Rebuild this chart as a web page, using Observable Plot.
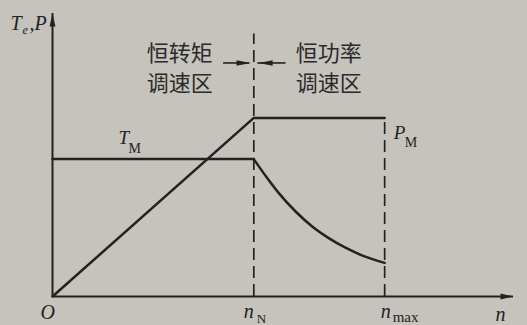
<!DOCTYPE html>
<html>
<head>
<meta charset="utf-8">
<script src="https://cdn.jsdelivr.net/npm/d3@7"></script>
<script src="https://cdn.jsdelivr.net/npm/@observablehq/plot@0.6"></script>
<style>
  html, body { margin: 0; padding: 0; background: #c5c3bc; }
  #chart svg { display: block; }
</style>
</head>
<body>
<div id="chart"></div>
<script>
// Speed axis in per-unit of rated speed (n / nN); torque and power in per-unit of TM.
const markSpeeds = [1, 1.65];            // nN, nmax
const axisEnds = [2.29, 2.06];           // end of n axis, end of Te/P axis

// Motor torque: constant up to nN, then falling in the constant-power region
const torqueSpeed = [0, 1, 1.06, 1.12, 1.21, 1.29, 1.37, 1.46, 1.54, 1.65];
const torqueValue = [1, 1, 0.875, 0.76, 0.615, 0.51, 0.427, 0.352, 0.298, 0.245];

// Motor power: rising up to nN, then constant PM
const powerSpeed = [0, 1, 1.65];
const powerValue = [0, 1.3, 1.3];

// Region labels
const regionLabels = ["恒转矩\n调速区", "恒功率\n调速区"];
const regionLevel = 1.70;
const dividerTop = 1.91;

const ink = "#222";
const bg = "#c5c3bc";
const [nN, nMax] = markSpeeds;
const [xEnd, yEnd] = axisEnds;

// filled, narrow arrowhead with its tip at the anchor, pointing up before rotation
const head = (len, hw) => ({
  draw(ctx) {
    ctx.moveTo(0, 0);
    ctx.lineTo(-hw, len);
    ctx.lineTo(hw, len);
    ctx.closePath();
  }
});

const serif = "Liberation Serif, Times New Roman, serif";
// text with its baseline-left corner offset from a data point
const label = (t, x, y, dx, dy, size, italic = true) =>
  Plot.text([t], {
    x: [x], y: [y], text: [t], dx, dy,
    textAnchor: "start", lineAnchor: "bottom",
    fontFamily: serif, fontSize: size, fontStyle: italic ? "italic" : "normal",
    fill: ink
  });

const torqueFlat = torqueSpeed.slice(0, 2).map((n, i) => ({n, v: torqueValue[i]}));
const torqueFall = torqueSpeed.slice(1).map((n, i) => ({n, v: torqueValue[i + 1]}));
const power = powerSpeed.map((n, i) => ({n, v: powerValue[i]}));

const chart = Plot.plot({
  width: 527,
  height: 325,
  marginLeft: 52,
  marginRight: 14,
  marginTop: 13,
  marginBottom: 29,
  x: {domain: [0, xEnd], axis: null},
  y: {domain: [0, yEnd], axis: null},
  style: {background: bg, color: ink},
  marks: [
    // axes
    Plot.ruleY([0], {x1: 0, x2: xEnd, stroke: ink, strokeWidth: 2}),
    Plot.ruleX([0], {y1: 0, y2: yEnd, stroke: ink, strokeWidth: 2}),
    Plot.dot([0], {x: [xEnd], y: [0], symbol: head(13, 3), rotate: 90, fill: ink, stroke: "none"}),
    Plot.dot([0], {x: [0], y: [yEnd], symbol: head(13, 3), rotate: 0, fill: ink, stroke: "none"}),

    // nN divider and nmax marker
    Plot.ruleX([nN], {y1: 0, y2: dividerTop, stroke: ink, strokeWidth: 1.7, strokeDasharray: "12,6"}),
    Plot.ruleX([nMax], {y1: 0, y2: powerValue[2], stroke: ink, strokeWidth: 1.7, strokeDasharray: "12,6"}),

    // curves
    Plot.line(torqueFlat, {x: "n", y: "v", stroke: ink, strokeWidth: 2.5}),
    Plot.line(torqueFall, {x: "n", y: "v", stroke: ink, strokeWidth: 2.5, curve: "monotone-x"}),
    Plot.line(power, {x: "n", y: "v", stroke: ink, strokeWidth: 2.5}),

    // region arrows pointing at the divider
    Plot.ruleY([regionLevel], {x1: nN - 0.15, x2: nN - 0.02, stroke: ink, strokeWidth: 1.6}),
    Plot.ruleY([regionLevel], {x1: nN + 0.02, x2: nN + 0.16, stroke: ink, strokeWidth: 1.6}),
    Plot.dot([0], {x: [nN - 0.016], y: [regionLevel], symbol: head(14, 2.8), rotate: 90, fill: ink, stroke: "none"}),
    Plot.dot([0], {x: [nN + 0.024], y: [regionLevel], symbol: head(14, 2.8), rotate: -90, fill: ink, stroke: "none"}),

    // region labels
    Plot.text([regionLabels[0]], {x: [nN], y: [regionLevel], text: [regionLabels[0]], dx: -74, dy: -23,
      lineAnchor: "top", lineHeight: 1.36, fontSize: 22, fontFamily: "Noto Sans CJK SC", fill: "#2a2a2a"}),
    Plot.text([regionLabels[1]], {x: [nN], y: [regionLevel], text: [regionLabels[1]], dx: 75, dy: -23,
      lineAnchor: "top", lineHeight: 1.36, fontSize: 22, fontFamily: "Noto Sans CJK SC", fill: "#2a2a2a"}),

    // axis titles
    label("T", 0, yEnd, -42, 16, 20),
    label("e", 0, yEnd, -30, 20, 12),
    label(",P", 0, yEnd, -23, 16, 20),
    label("n", xEnd, 0, -18, 24, 20),
    label("O", 0, 0, -12, 22, 20),

    // speed marks
    label("n", nN, 0, -10, 21, 20),
    label("N", nN, 0, 3, 26.5, 13, false),
    label("n", nMax, 0, -4, 21, 20),
    label("max", nMax, 0, 8, 25, 15, false),

    // curve labels
    label("T", 0, torqueValue[0], 66, -15.5, 19),
    label("M", 0, torqueValue[0], 76, -6, 14, false),
    label("P", nMax, powerValue[2], 9, 21.5, 19),
    label("M", nMax, powerValue[2], 20, 29.5, 14, false)
  ]
});

document.getElementById("chart").appendChild(chart);
</script>
</body>
</html>
